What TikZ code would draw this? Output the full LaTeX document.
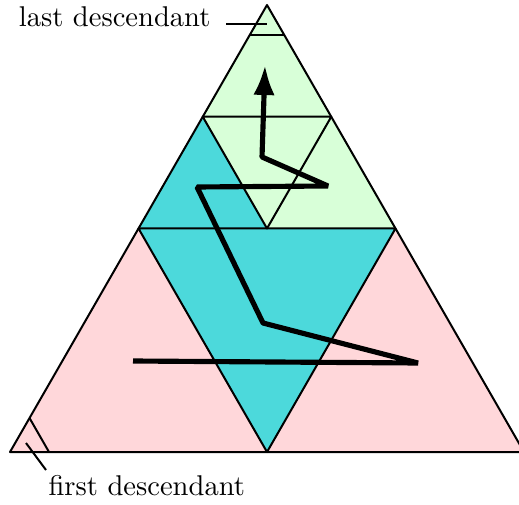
\documentclass[tikz,border=0pt]{standalone}
\usetikzlibrary{arrows.meta}
\definecolor{pinkfill}{RGB}{255,215,218}
\definecolor{greenfill}{RGB}{216,255,216}
\definecolor{cyanfill}{RGB}{76,217,219}
\tikzset{
  edge/.style={line width=0.7pt, line join=round},
  walk/.style={line width=1.8pt, line join=bevel, -{Latex[length=10.5pt,width=7.5pt]}},
  label/.style={inner sep=0pt, font=\normalsize}
}
\begin{document}
\begin{tikzpicture}[x=0.35pt,y=-0.35pt]
\useasboundingbox (0,0) rectangle (519,504);
% main vertices
\coordinate (A) at (10,452);
\coordinate (B) at (524,452);
\coordinate (C) at (267,5);
\coordinate (mAB) at (267,452);
\coordinate (mBC) at (395.5,228.5);
\coordinate (mCA) at (138.5,228.5);
\coordinate (tL) at (202.75,116.75);
\coordinate (tR) at (331.25,116.75);
% fills
\fill[pinkfill] (A) -- (B) -- (C) -- cycle;
\fill[greenfill] (mCA) -- (mBC) -- (C) -- cycle;
\fill[cyanfill] (mCA) -- (mBC) -- (mAB) -- cycle;
\fill[cyanfill] (mCA) -- (tL) -- (mAB |- mCA) -- cycle;
% edges
\draw[edge] (A) -- (B) -- (C) -- cycle;
\draw[edge] (mCA) -- (mBC) -- (mAB) -- cycle;
\draw[edge] (tL) -- (tR) -- (mAB |- mCA) -- cycle;
% top small triangle
\coordinate (sL) at (249.5,35);
\coordinate (sR) at (284.5,35);
\draw[edge] (sL) -- (sR);
% corner small triangle
\coordinate (cL) at (29.5,418);
\coordinate (cB) at (49,452);
\draw[edge] (cL) -- (cB);
% labels and pointers
\node[label, anchor=base east] (last) at (211,27) {last descendant};
\coordinate (lastA) at (226,24);
\coordinate (lastB) at (267,24);
\draw[edge] (lastA) -- (lastB);
\node[label, anchor=base west] (first) at (48,495) {first descendant};
\coordinate (firstA) at (26,443);
\coordinate (firstB) at (46,470);
\draw[edge] (firstA) -- (firstB);
% walk
\coordinate (p0) at (133,361);
\coordinate (p1) at (418,363);
\coordinate (p2) at (263,323);
\coordinate (p3) at (197,187);
\coordinate (p4) at (328,186);
\coordinate (p5) at (262,157);
\coordinate (p6) at (265,65);
\draw[walk] (p0) -- (p1) -- (p2) -- (p3) -- (p4) -- (p5) -- (p6);
\end{tikzpicture}
\end{document}
